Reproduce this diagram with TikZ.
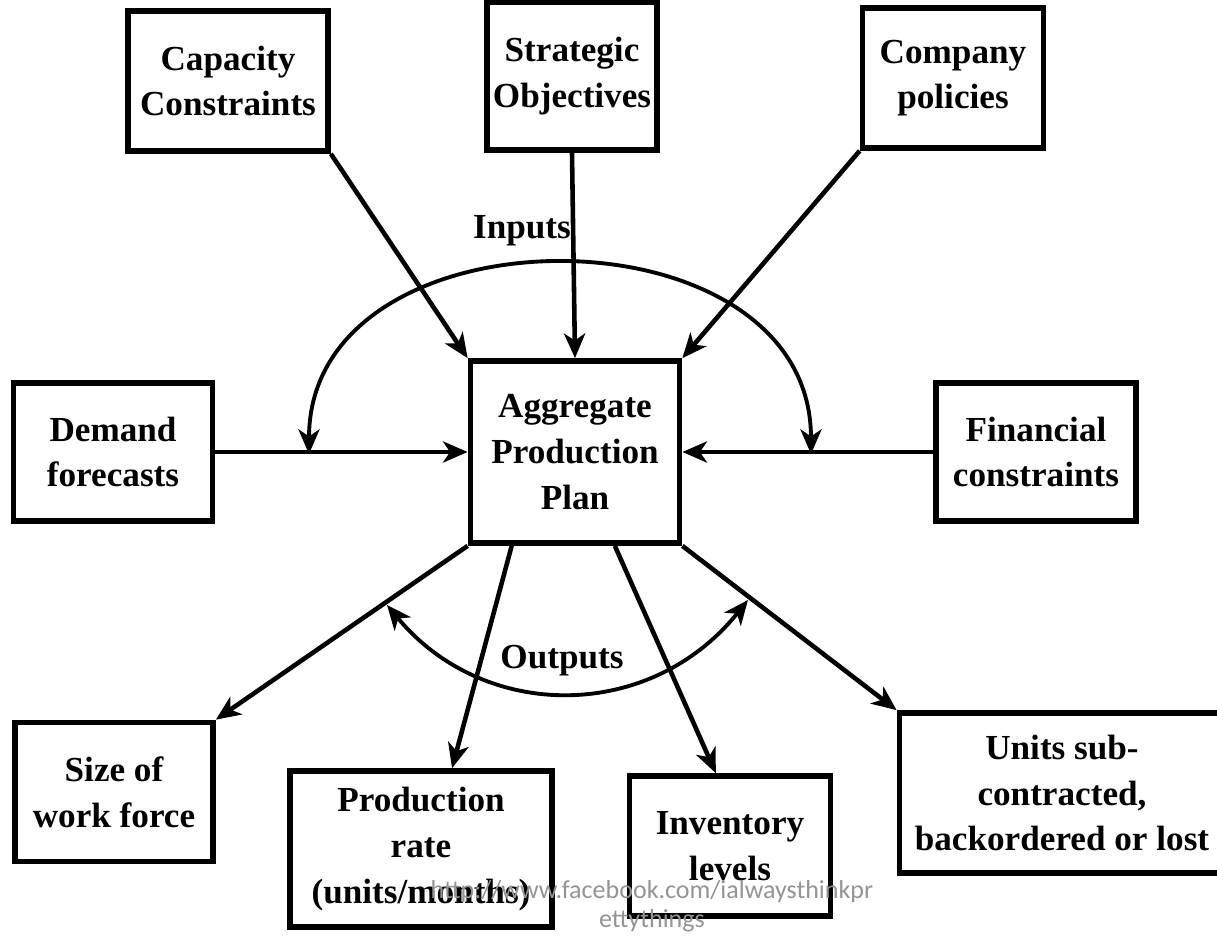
\documentclass[tikz,border=0pt]{standalone}
\usepackage{fontspec}
\setmainfont{Liberation Serif}
\newfontfamily\wmfont{Carlito}
\usetikzlibrary{arrows.meta}

\begin{document}
\begin{tikzpicture}[x=0.01cm,y=-0.01cm,
    box/.style={rectangle,draw=black,line width=1.6pt,inner sep=0pt,align=center,font=\bfseries\fontsize{10}{13}\selectfont},
    flow/.style={line width=1.3pt,-{Stealth[length=7pt,width=6pt,inset=2pt]}},
    sweep/.style={line width=1.1pt,{Stealth[length=7pt,width=6pt,inset=2pt]}-{Stealth[length=7pt,width=6pt,inset=2pt]}},
    lab/.style={font=\bfseries\fontsize{10}{13}\selectfont}]
    \useasboundingbox (0,0) rectangle (1217,945);
    \node[box,minimum width=2cm,minimum height=1.4cm] (cap) at (228,81) {Capacity\\Constraints};
    \node[box,minimum width=1.7cm,minimum height=1.48cm] (str) at (572,76) {Strategic\\Objectives};
    \node[box,minimum width=1.81cm,minimum height=1.4cm] (com) at (953,78) {Company\\policies};
    \node[box,minimum width=1.99cm,minimum height=1.38cm] (dem) at (113,452) {Demand\\forecasts};
    \node[box,minimum width=2.09cm,minimum height=1.82cm] (app) at (575,452) {Aggregate\\Production\\Plan};
    \node[box,minimum width=2cm,minimum height=1.38cm] (fin) at (1036,452) {Financial\\constraints};
    \node[box,minimum width=1.98cm,minimum height=1.39cm] (siz) at (114,792) {Size of\\work force};
    \node[box,minimum width=2.62cm,minimum height=1.56cm] (prd) at (421,849) {Production\\rate\\(units/months)};
    \node[box,minimum width=2.01cm,minimum height=1.4cm] (inv) at (730,846) {Inventory\\levels};
    \node[box,minimum width=3.25cm,minimum height=1.6cm] (uni) at (1062,793) {Units sub-\\contracted,\\backordered or lost};

    \draw[flow] (cap.south east) -- (app.north west);
    \draw[flow] (str.south) -- (app.north);
    \draw[flow] (com.south west) -- (app.north east);
    \draw[flow] (dem.east) -- (app.west);
    \draw[flow] (fin.west) -- (app.east);
    \draw[flow] (app.south west) -- (siz.north east);
    \draw[flow] (app.236.6) -- (prd.69.6);
    \draw[flow] (app.293.7) -- (inv.101);
    \draw[flow] (app.south east) -- (uni.north west);

    \coordinate (inl) at (309,454);
    \coordinate (inr) at (811,454);
    \coordinate (outl) at (387,605);
    \coordinate (outr) at (748,600);
    \draw[sweep] (inl) .. controls (309,202) and (811,202) .. (inr);
    \draw[sweep] (outl) .. controls (484,722) and (650,722) .. (outr);
    \node[lab] (inp) at (522,231) {Inputs};
    \node[lab] (outp) at (562,661) {Outputs};

    \node[font=\wmfont\fontsize{7.4}{8.4}\selectfont,text=black!42,align=center] (wm) at (652,906) {http://www.facebook.com/ialwaysthinkpr\\ettythings};
\end{tikzpicture}
\end{document}
